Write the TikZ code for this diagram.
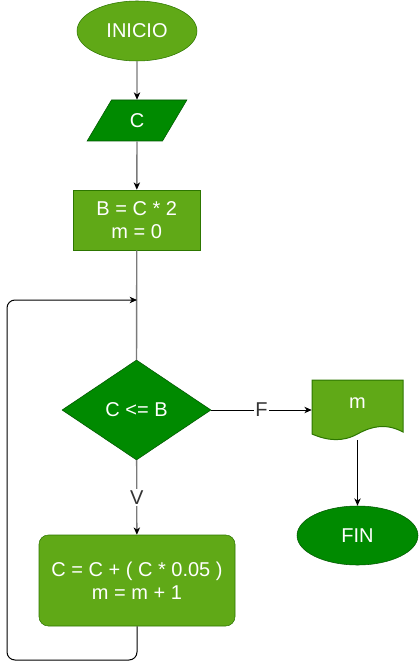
\documentclass[tikz,border=0pt]{standalone}
\usepackage{fontspec}
\setmainfont{Liberation Sans}
\usetikzlibrary{shapes.geometric, arrows.meta}
\definecolor{verdeclaro}{HTML}{60A917}
\definecolor{bordeclaro}{HTML}{2D7600}
\definecolor{verdeoscuro}{HTML}{008A00}
\definecolor{bordeoscuro}{HTML}{005700}
\definecolor{gris}{HTML}{7A7A7A}
\definecolor{textogris}{HTML}{333333}
\tikzstyle{claro} = [draw=bordeclaro, fill=verdeclaro, text=white, align=center,
    font=\fontsize{15pt}{17.5pt}\selectfont]
\tikzstyle{oscuro} = [draw=bordeoscuro, fill=verdeoscuro, text=white, align=center,
    font=\fontsize{15pt}{17.5pt}\selectfont]
\tikzstyle{grislinea} = [draw=gris, line width=1pt]
\tikzstyle{grisflecha} = [grislinea, -{Stealth[black, length=5.5pt, width=4.8pt, inset=1.6pt]}]
\tikzstyle{negroflecha} = [draw=black, line width=0.75pt, -{Stealth[black, length=5.5pt, width=4.8pt, inset=1.6pt]}]
\tikzstyle{etiqueta} = [fill=white, text=textogris, inner sep=1pt,
    font=\fontsize{15pt}{17.5pt}\selectfont]

\begin{document}
\begin{tikzpicture}[x=0.75pt, y=-0.75pt]
\useasboundingbox (0,0) rectangle (418,670);

\node[claro, ellipse, minimum width=90pt, minimum height=45pt] (inicio) at (137,31) {INICIO};
\node[oscuro, trapezium, trapezium left angle=64, trapezium right angle=116,
    trapezium stretches=true, minimum width=75pt, minimum height=30.75pt, inner sep=0pt]
    (leer) at (137,120.5) {C};
\node[claro, rectangle, minimum width=95.25pt, minimum height=45pt] (asig) at (136.75,220) {B = C * 2\\m = 0};
\node[oscuro, diamond, minimum width=111.75pt, minimum height=75pt, inner sep=0pt] (cond) at (136.5,410) {C <= B};
\node[claro, rectangle, rounded corners=7pt, minimum width=147pt, minimum height=68.25pt] (proc) at (137,580.5)
    {C = C + ( C * 0.05 )\\m = m + 1};

\draw[draw=bordeclaro, fill=verdeclaro, line width=0.75pt] (312,380) -- (403,380) -- (403,432)
    .. controls (386,423) and (372,426) .. (357.5,434)
    .. controls (343,442) and (328,441) .. (312,434) -- cycle;
\node[claro, draw=none, fill=none, minimum width=68.25pt, minimum height=34.5pt] (salida) at (357.5,403) {m};
\coordinate (salidab) at (357.5,440);
\node[oscuro, ellipse, minimum width=90.75pt, minimum height=44.25pt] (fin) at (357.5,535.5) {FIN};
\coordinate (junta) at (137,300);

\draw[grisflecha] (inicio) -- (leer);
\draw[grisflecha] (leer) -- (asig);
\draw[grislinea] (asig) -- (cond);
\draw[grisflecha] (cond) -- node[etiqueta] {V} (proc);
\draw[negroflecha] (cond.east) -- node[etiqueta] {F} (cond.east -| salida.west);
\draw[negroflecha] (salidab) -- (fin);
\draw[negroflecha, rounded corners=6pt] (proc.south) -- (proc.south |- 0,660) -- (7,660) -- (7,300) -- (junta);
\end{tikzpicture}
\end{document}
